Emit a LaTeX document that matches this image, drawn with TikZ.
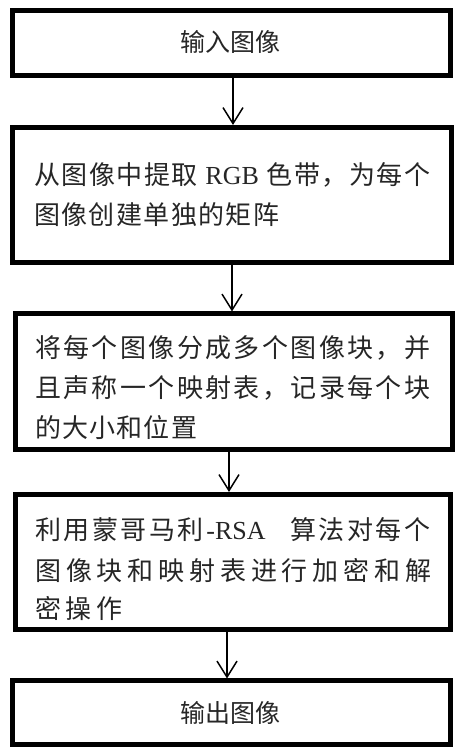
\documentclass[tikz,border=0pt]{standalone}
\usepackage{fontspec}
\setmainfont{Liberation Serif}
\newfontfamily\cjk{Noto Sans CJK SC}
\usetikzlibrary{arrows.meta}
\makeatletter
\def\sp@nil{\@nil}
\def\sp@first#1{#1\sp@rest}
\def\sp@rest#1{\def\sp@arg{#1}\ifx\sp@arg\sp@nil\else\hfil#1\expandafter\sp@rest\fi}
\newcommand\fitline[2]{\hbox to #1{\sp@first#2\@nil}}
\makeatother
\newcommand\lat[1]{{\rmfamily\fontsize{26}{26}\selectfont #1}}
\definecolor{ink}{gray}{0.15}
\tikzset{
  box/.style={draw=black, line width=5pt, inner sep=0pt, rectangle},
  txt/.style={anchor=base west, inner sep=0pt, text=ink, font=\cjk\fontsize{26}{26}\selectfont},
  ctxt/.style={anchor=base, inner sep=0pt, text=ink, font=\cjk\fontsize{25}{25}\selectfont},
  arr/.style={line width=1.5pt, -{Straight Barb[length=16pt,width=20pt]}}
}
\begin{document}
\begin{tikzpicture}[x=1pt,y=1pt]
\useasboundingbox (0,0) rectangle (465,756);
\fill[white] (0,0) rectangle (465,756);
% boxes
\node[box, minimum width=438pt, minimum height=65pt] (b1) at (231.5,713) {};
\node[box, minimum width=439.5pt, minimum height=135.5pt] (b2) at (231.75,560.75) {};
\node[box, minimum width=437pt, minimum height=136pt] (b3) at (234,374) {};
\node[box, minimum width=435pt, minimum height=135.5pt] (b4) at (233,193.75) {};
\node[box, minimum width=437.5pt, minimum height=64pt] (b5) at (231.25,43) {};
% texts
\node[ctxt] (t1) at (230,704) {\fitline{100pt}{输入图像}};
\node[txt] (t21) at (34,571) {\fitline{396pt}{从图像中提取{\lat{\ RGB\ }}色带，为每个}};
\node[txt] (t22) at (34,531) {\fitline{245pt}{图像创建单独的矩阵}};
\node[txt] (t31) at (35,398) {\fitline{395pt}{将每个图像分成多个图像块，并}};
\node[txt] (t32) at (35,358) {\fitline{395pt}{且声称一个映射表，记录每个块}};
\node[txt] (t33) at (35,318) {\fitline{162pt}{的大小和位置}};
\node[txt] (t41) at (35,216) {\fitline{395pt}{利用蒙哥马利{\lat{-RSA}\hskip 22pt}算法对每个}};
\node[txt] (t42) at (35,175) {\fitline{396pt}{图像块和映射表进行加密和解}};
\node[txt] (t43) at (35,137) {\fitline{87pt}{密操作}};
\node[ctxt] (t5) at (230,34) {\fitline{100pt}{输出图像}};
% arrows
\coordinate (a1) at (233,0);
\coordinate (a2) at (232,0);
\coordinate (a3) at (229,0);
\coordinate (a4) at (227,0);
\draw[arr] (b1.south -| a1) -- (b2.north -| a1);
\draw[arr] (b2.south -| a2) -- (b3.north -| a2);
\draw[arr] (b3.south -| a3) -- (b4.north -| a3);
\draw[arr] (b4.south -| a4) -- (b5.north -| a4);
\end{tikzpicture}
\end{document}
